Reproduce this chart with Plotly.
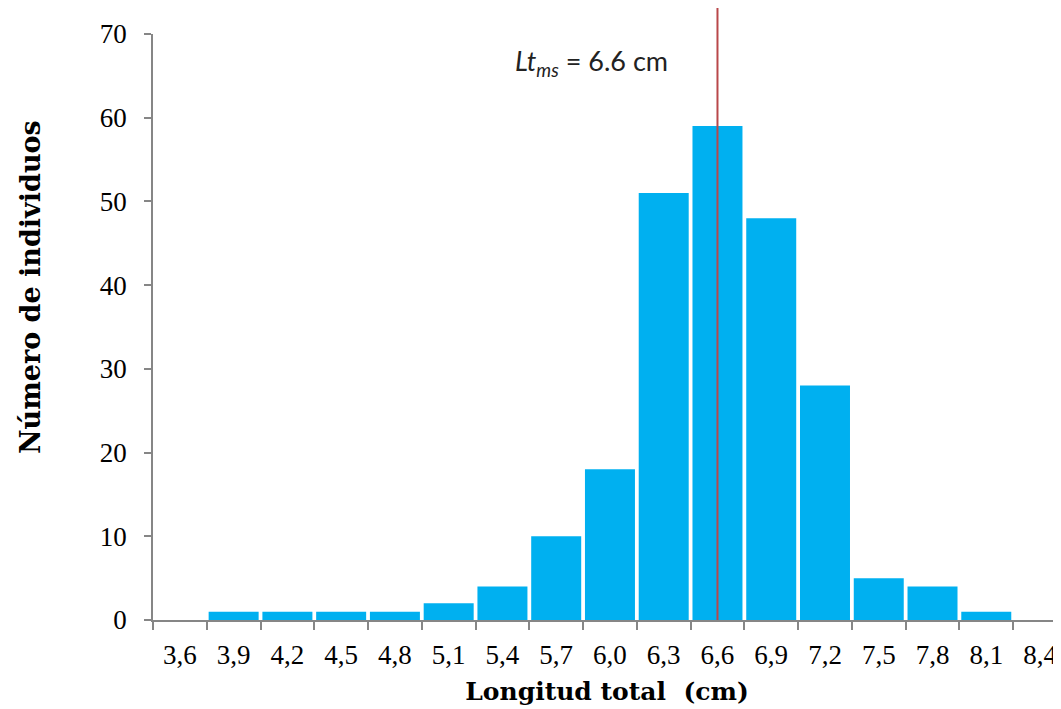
import plotly.graph_objects as go

categories = ["3,6", "3,9", "4,2", "4,5", "4,8", "5,1", "5,4", "5,7", "6,0",
              "6,3", "6,6", "6,9", "7,2", "7,5", "7,8", "8,1", "8,4"]
counts = [0, 1, 1, 1, 1, 2, 4, 10, 18, 51, 59, 48, 28, 5, 4, 1, 0]
y_ticks = [0, 10, 20, 30, 40, 50, 60, 70]
lt_ms_label = "6,6"

fig = go.Figure()
fig.add_trace(go.Bar(
    x=categories, y=counts,
    marker=dict(color="#00B0F0", line=dict(width=0)),
    showlegend=False,
))

lt_idx = categories.index(lt_ms_label)
fig.add_shape(type="line", xref="x", yref="paper",
              x0=lt_idx, x1=lt_idx, y0=0, y1=1.045,
              line=dict(color="#B9474A", width=2), layer="above")

fig.add_annotation(
    text="<i>Lt</i><sub><i>ms</i></sub> = 6.6 cm",
    xref="x", yref="y", x=7.65, y=66.6, showarrow=False,
    font=dict(family="Lato", size=27, color="#222222"),
)

# y-axis title (placed above centre, as in the reference)
fig.add_annotation(
    text="<b>Número de individuos</b>", textangle=-90,
    xref="paper", yref="paper", x=-0.1355, y=0.568,
    xanchor="center", yanchor="middle", showarrow=False,
    font=dict(family="DejaVu Serif", size=27, color="black"),
)

fig.update_layout(
    width=1053, height=701,
    margin=dict(l=145, r=0, t=26, b=89),
    plot_bgcolor="white", paper_bgcolor="white",
    bargap=0.07,
    xaxis=dict(
        type="category", range=[-0.5, 16.39], automargin=False,
        showline=True, linecolor="#868686", linewidth=1.5,
        ticks="outside", tickson="boundaries", ticklen=8, tickcolor="#868686", tickwidth=1.5,
        tickfont=dict(family="Liberation Serif", size=27, color="black"),
        ticklabelstandoff=10,
        showgrid=False, zeroline=False,
        title=dict(text="<b>Longitud total  (cm)</b>",
                   font=dict(family="DejaVu Serif", size=25, color="black"),
                   standoff=13),
    ),
    yaxis=dict(
        range=[0, 70], tickvals=y_ticks, automargin=False,
        showline=True, linecolor="#868686", linewidth=1.5,
        ticks="outside", ticklen=7, tickcolor="#868686", tickwidth=1.5,
        tickfont=dict(family="Liberation Serif", size=27, color="black"),
        ticklabelstandoff=12,
        showgrid=False, zeroline=False,
    ),
)

fig.write_html("out.html")
